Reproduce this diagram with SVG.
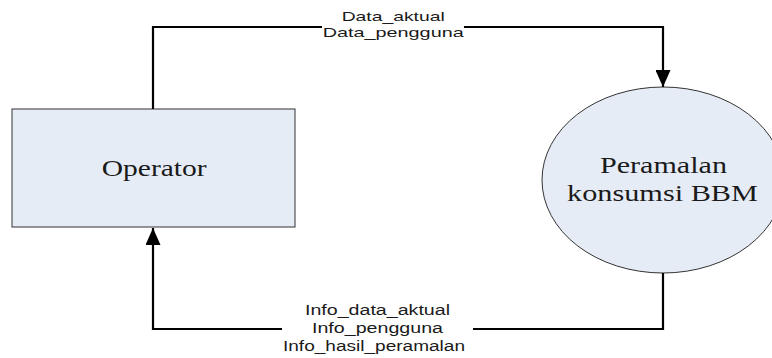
<svg xmlns="http://www.w3.org/2000/svg" width="772" height="358" viewBox="0 0 772 358">
  <style>
    .node { fill: #e6ecf6; stroke: #333333; stroke-width: 1; }
    .serif { font-family: "Liberation Serif", "Times New Roman", serif; font-size: 23px; fill: #1a1a1a; }
    .lbl { font-family: "Liberation Sans", Arial, sans-serif; fill: #1a1a1a; }
    .flow { fill: none; stroke: #000000; stroke-width: 2.2; }
  </style>
  <defs>
    <marker id="arrow" markerUnits="userSpaceOnUse" markerWidth="18" markerHeight="15" refX="17" refY="7.5" orient="auto">
      <path d="M0,0 L17,7.5 L0,15 Z" fill="#000000"/>
    </marker>
  </defs>
  <rect width="772" height="358" fill="#ffffff"/>

  <g id="operator">
    <rect class="node" x="12" y="109" width="283" height="118"/>
    <text class="serif" x="101.7" y="175.5" textLength="105" lengthAdjust="spacingAndGlyphs">Operator</text>
  </g>

  <g id="peramalan">
    <ellipse class="node" cx="663" cy="180" rx="121" ry="93" stroke="#000000"/>
    <text class="serif" x="600" y="173" textLength="127" lengthAdjust="spacingAndGlyphs">Peramalan</text>
    <text class="serif" x="567" y="201" textLength="191" lengthAdjust="spacingAndGlyphs">konsumsi BBM</text>
  </g>

  <g id="connectors">
    <path class="flow" d="M153,109 L153,27 L322,27"/>
    <path class="flow" d="M464,27 L663,27 L663,87" marker-end="url(#arrow)"/>
    <text class="lbl" font-size="13" x="341.7" y="21" textLength="103" lengthAdjust="spacingAndGlyphs">Data_aktual</text>
    <text class="lbl" font-size="13" x="322.7" y="37" textLength="141" lengthAdjust="spacingAndGlyphs">Data_pengguna</text>

    <path class="flow" d="M663,273 L663,329 L473,329"/>
    <path class="flow" d="M282,329 L153,329 L153,228" marker-end="url(#arrow)"/>
    <text class="lbl" font-size="14" x="305" y="315" textLength="145" lengthAdjust="spacingAndGlyphs">Info_data_aktual</text>
    <text class="lbl" font-size="14" x="312" y="333" textLength="131" lengthAdjust="spacingAndGlyphs">Info_pengguna</text>
    <text class="lbl" font-size="14" x="283" y="351" textLength="182" lengthAdjust="spacingAndGlyphs">Info_hasil_peramalan</text>
  </g>
</svg>
